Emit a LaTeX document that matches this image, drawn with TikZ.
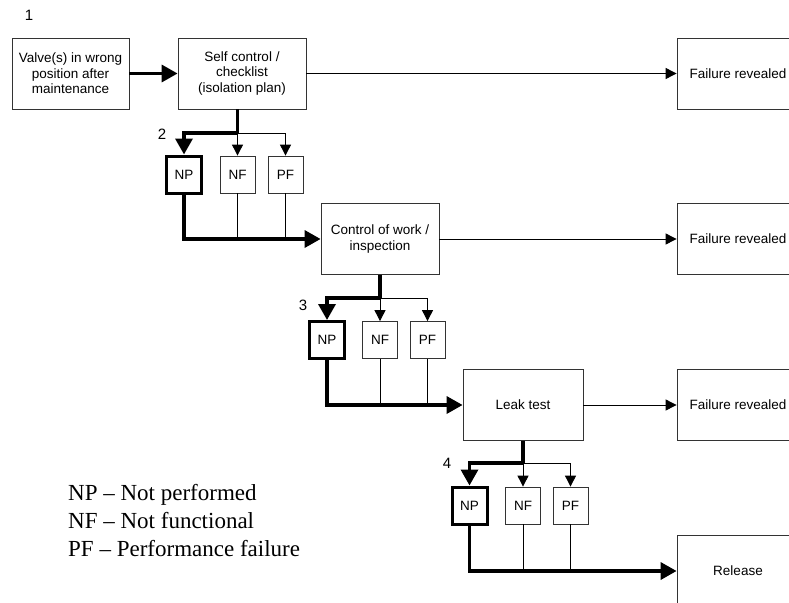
\documentclass[tikz,border=0pt]{standalone}
\usepackage{fontspec}
\setmainfont{Liberation Serif}
\setsansfont{Liberation Sans}
\usetikzlibrary{arrows.meta}

\begin{document}
\begin{tikzpicture}[x=1pt, y=-1pt,
    stage/.style={draw=black!80, line width=0.8pt, minimum width=120pt, minimum height=71pt, align=center, inner sep=2pt, font=\sffamily\fontsize{13.5}{15.5}\selectfont},
    mode/.style={draw=black!80, line width=0.8pt, minimum width=35pt, minimum height=37pt, inner sep=1pt, font=\sffamily\fontsize{13.5}{15.5}\selectfont},
    npmode/.style={mode, draw=black, line width=3pt},
    num/.style={font=\sffamily\fontsize{15}{17}\selectfont},
    thin/.style={line width=0.9pt, -{Triangle[length=11pt, width=11pt]}},
    thickpath/.style={line width=3.4pt, -{Triangle[length=16pt, width=17pt]}}
  ]
    \useasboundingbox (0,0) rectangle (789,602);

    % Main stages
    \node[stage, minimum width=117pt] (valve) at (70.5,73.5) {Valve(s) in wrong\\position after\\maintenance};
    \node[stage, minimum width=128pt] (self) at (242,73.5) {Self control /\\checklist\\(isolation plan)};
    \node[stage, minimum width=118pt] (ctrl) at (380,239) {Control of work /\\inspection};
    \node[stage] (leak) at (523,405) {Leak test};

    % Outcomes
    \node[stage, minimum width=122pt] (fail1) at (738,73.5) {Failure revealed};
    \node[stage, minimum width=122pt] (fail2) at (738,239) {Failure revealed};
    \node[stage, minimum width=122pt] (fail3) at (738,405) {Failure revealed};
    \node[stage, minimum width=122pt] (release) at (738,571) {Release};

    % Failure modes
    \node[npmode] (np1) at (184,174.5) {NP};
    \node[mode] (nf1) at (237.5,174.5) {NF};
    \node[mode] (pf1) at (285.5,174.5) {PF};
    \node[npmode] (np2) at (327,340) {NP};
    \node[mode] (nf2) at (380,340) {NF};
    \node[mode] (pf2) at (427.5,340) {PF};
    \node[npmode] (np3) at (469.5,505.5) {NP};
    \node[mode] (nf3) at (523,505.5) {NF};
    \node[mode] (pf3) at (570.5,505.5) {PF};

    % Branch points
    \coordinate (b1) at (237.5,133);
    \coordinate (b2) at (380,298);
    \coordinate (b3) at (523,463);

    % Step numbers
    \node[num] (n1) at (29,15) {1};
    \node[num] (n2) at (162,134) {2};
    \node[num] (n3) at (303,305) {3};
    \node[num] (n4) at (447,463) {4};

    % Barriers revealing the failure
    \draw[thin] (self) -- (fail1);
    \draw[thin] (ctrl) -- (fail2);
    \draw[thin] (leak) -- (fail3);

    % Step 1 -> 2
    \draw[thickpath] (valve) -- (self);
    \draw[line width=3.4pt] (b1 |- self.south) -- (b1);
    \draw[thickpath] (b1) -| (np1.north);
    \draw[thin] (b1) -- (nf1.north);
    \draw[thin] (b1) -| (pf1.north);
    \draw[line width=0.9pt] (nf1.south) -- (nf1 |- ctrl.west);
    \draw[line width=0.9pt] (pf1.south) -- (pf1 |- ctrl.west);
    \draw[thickpath] (np1.south) |- (ctrl.west);

    % Step 2 -> 3
    \draw[line width=3.4pt] (ctrl.south) -- (b2);
    \draw[thickpath] (b2) -| (np2.north);
    \draw[thin] (b2) -- (nf2.north);
    \draw[thin] (b2) -| (pf2.north);
    \draw[line width=0.9pt] (nf2.south) -- (nf2 |- leak.west);
    \draw[line width=0.9pt] (pf2.south) -- (pf2 |- leak.west);
    \draw[thickpath] (np2.south) |- (leak.west);

    % Step 3 -> 4
    \draw[line width=3.4pt] (leak.south) -- (b3);
    \draw[thickpath] (b3) -| (np3.north);
    \draw[thin] (b3) -- (nf3.north);
    \draw[thin] (b3) -| (pf3.north);
    \draw[line width=0.9pt] (nf3.south) -- (nf3 |- release.west);
    \draw[line width=0.9pt] (pf3.south) -- (pf3 |- release.west);
    \draw[thickpath] (np3.south) |- (release.west);

    % Legend
    \node[anchor=west, align=left, inner sep=0pt, font=\fontsize{23}{28}\selectfont] (legend) at (68,521) {NP -- Not performed\\NF -- Not functional\\PF -- Performance failure};
  \end{tikzpicture}
\end{document}
